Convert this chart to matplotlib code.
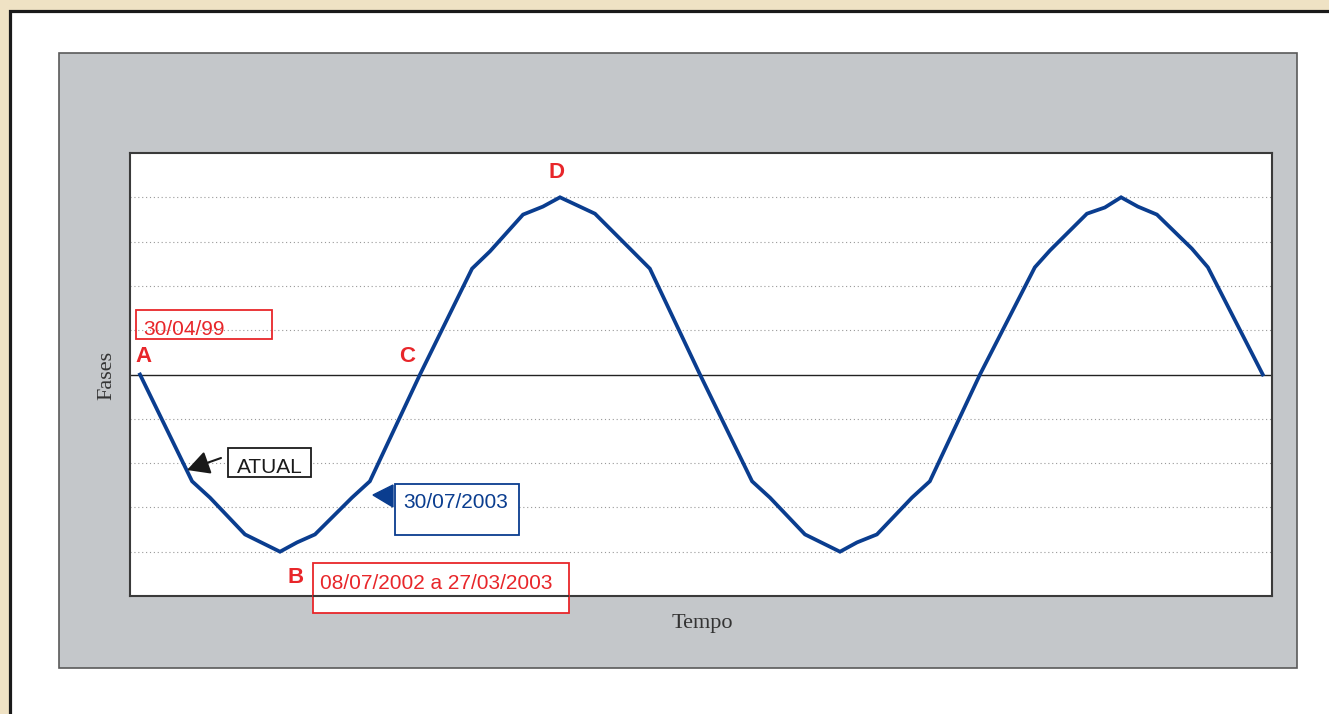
import matplotlib.pyplot as plt
from matplotlib.patches import Rectangle, Polygon, FancyArrowPatch
from matplotlib.lines import Line2D

# wave (time units, phase units)
tempo = [0, 1.86, 2.5, 3.75, 5, 5.61, 6.25, 7.57, 8.21, 10,
         11.86, 12.5, 13.68, 14.39, 15, 16.25, 17.5, 18.21, 20,
         21.86, 22.5, 23.75, 25, 25.61, 26.32, 27.57, 28.21, 30,
         31.96, 32.5, 33.82, 34.46, 35.04, 35.64, 36.32, 37.57, 38.14, 40.1]
fases = [0, -2.41, -2.78, -3.61, -4.0, -3.79, -3.61, -2.78, -2.41, 0,
         2.39, 2.78, 3.61, 3.79, 4.0, 3.63, 2.84, 2.39, 0,
         -2.41, -2.78, -3.61, -4.0, -3.79, -3.61, -2.78, -2.41, 0,
         2.42, 2.8, 3.63, 3.77, 4.0, 3.79, 3.61, 2.84, 2.42, 0]
grid_levels = [-4, -3, -2, -1, 1, 2, 3, 4]

RED = '#e8262a'
BLUE = '#0a3d8f'
W, H = 1329, 714


def fx(px):
    return px / W


def fy(py):
    return 1 - py / H


fig = plt.figure(figsize=(W / 100, H / 100), dpi=100)
fig.patch.set_facecolor('#efe2c4')

# white panel and gray frame
fig.patches.append(Rectangle((fx(10), fy(760)), fx(1400), fy(11) - fy(760),
                             transform=fig.transFigure, facecolor='white',
                             edgecolor='#1a1a1a', lw=2.3, zorder=0))
fig.patches.append(Rectangle((fx(59), fy(668)), fx(1297) - fx(59), fy(53) - fy(668),
                             transform=fig.transFigure, facecolor='#c4c7ca',
                             edgecolor='#5a5a5a', lw=1.2, zorder=1))

ax = fig.add_axes([fx(130), fy(596), fx(1272) - fx(130), fy(153) - fy(596)])
ax.set_zorder(2)
ax.set_facecolor('white')
ax.set_xlim(-0.357, 40.43)
ax.set_ylim(-5, 5)
for y in grid_levels:
    ax.axhline(y, color='#999999', lw=0.8, ls=(0, (1, 2.5)))
ax.axhline(0, color='#222222', lw=1.0)
ax.plot(tempo, fases, color=BLUE, lw=2.7, solid_joinstyle='miter')
ax.set_xticks([])
ax.set_yticks([])
for s in ax.spines.values():
    s.set_color('#3a3a3a')
    s.set_linewidth(1.5)

serif = 'Liberation Serif'
sans = 'Liberation Sans'
fig.text(fx(702), fy(628), 'Tempo', family=serif, fontsize=16, color='#333333',
         ha='center', va='baseline')
fig.text(fx(107), fy(375), 'Fases', family=serif, fontsize=16, color='#333333',
         ha='center', va='center', rotation=90)

# letters
for lbl, px, py in [('A', 143, 362), ('C', 407, 362), ('D', 556, 178), ('B', 296, 583)]:
    fig.text(fx(px), fy(py), lbl, family=sans, fontsize=16, fontweight='bold',
             color=RED, ha='center', va='baseline', zorder=5)

# boxes (the first one is see-through)
boxes = [((136, 310, 272, 339), RED, 'none'), ((228, 448, 311, 477), '#1a1a1a', 'white'),
         ((395, 484, 519, 535), BLUE, 'white'), ((313, 563, 569, 613), RED, 'white')]
for (x0, y0, x1, y1), c, fc in boxes:
    fig.patches.append(Rectangle((fx(x0), fy(y1)), fx(x1) - fx(x0), fy(y0) - fy(y1),
                                 transform=fig.transFigure, facecolor=fc,
                                 edgecolor=c, lw=1.3, zorder=4))
# plot frame shows through the lower red box
fig.lines.append(Line2D([fx(314), fx(568)], [fy(596), fy(596)], transform=fig.transFigure,
                        color='#3a3a3a', lw=1.5, zorder=4.5))

fig.text(fx(143), fy(335), '30/04/99', family=sans, fontsize=15, color=RED,
         va='baseline', zorder=5)
fig.text(fx(237), fy(473), 'ATUAL', family=sans, fontsize=15, color='#1a1a1a',
         va='baseline', zorder=5)
fig.text(fx(403), fy(508), '30/07/2003', family=sans, fontsize=15, color=BLUE,
         va='baseline', zorder=5)
fig.text(fx(320), fy(589), '08/07/2002 a 27/03/2003', family=sans, fontsize=15,
         color=RED, va='baseline', zorder=5)

# pointers
fig.patches.append(FancyArrowPatch((fx(221), fy(458)), (fx(187), fy(470)),
                                   transform=fig.transFigure,
                                   arrowstyle='-|>,head_length=0.85,head_width=0.45',
                                   mutation_scale=16, color='#1a1a1a', lw=1.5,
                                   shrinkA=0, shrinkB=0, zorder=5))
fig.patches.append(Polygon([(fx(373), fy(495)), (fx(393), fy(485)), (fx(393), fy(507))],
                           closed=True, transform=fig.transFigure,
                           facecolor=BLUE, edgecolor=BLUE, zorder=5))

fig.savefig('out.png', dpi=100)
